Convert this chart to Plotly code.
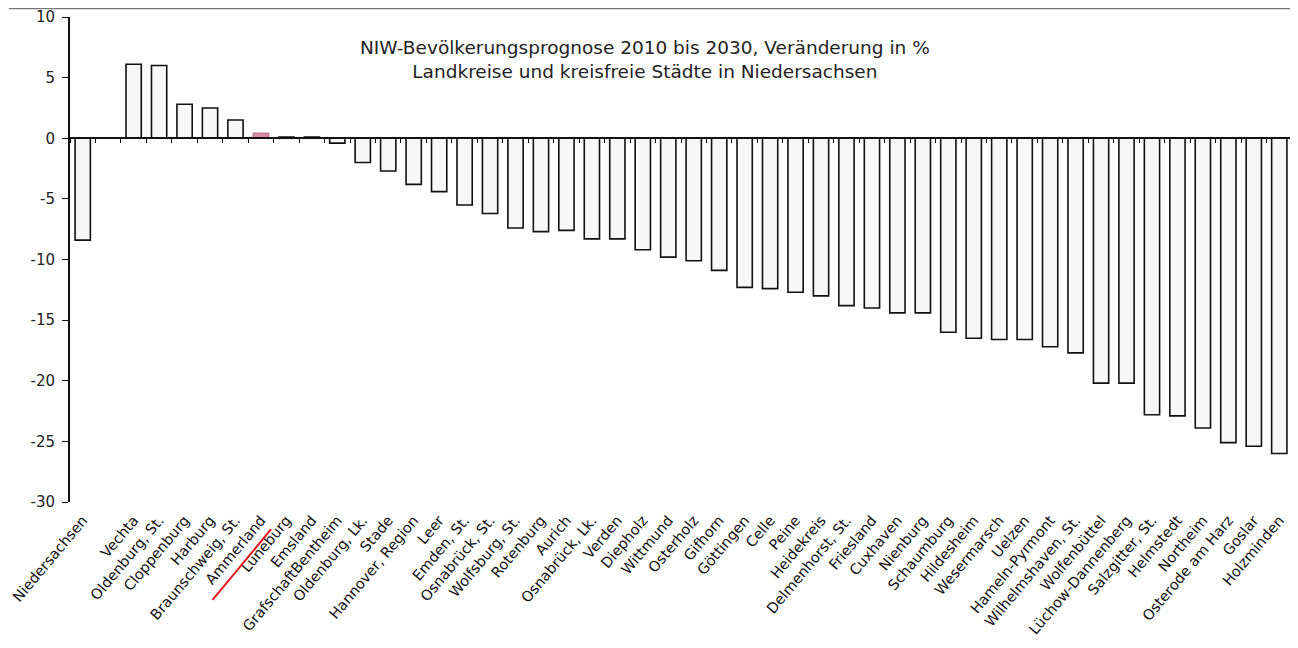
import plotly.graph_objects as go

categories = ["Niedersachsen", " ", "Vechta", "Oldenburg, St.", "Cloppenburg", "Harburg",
              "Braunschweig, St.", "Ammerland", "Lüneburg", "Emsland", "GrafschaftBentheim",
              "Oldenburg, Lk.", "Stade", "Hannover, Region", "Leer", "Emden, St.",
              "Osnabrück, St.", "Wolfsburg, St.", "Rotenburg", "Aurich", "Osnabrück, Lk.",
              "Verden", "Diepholz", "Wittmund", "Osterholz", "Gifhorn", "Göttingen", "Celle",
              "Peine", "Heidekreis", "Delmenhorst, St.", "Friesland", "Cuxhaven", "Nienburg",
              "Schaumburg", "Hildesheim", "Wesermarsch", "Uelzen", "Hameln-Pyrmont",
              "Wilhelmshaven, St.", "Wolfenbüttel", "Lüchow-Dannenberg", "Salzgitter, St.",
              "Helmstedt", "Northeim", "Osterode am Harz", "Goslar", "Holzminden"]

values = [-8.4, None, 6.1, 6.0, 2.8, 2.5, 1.5, 0.4, 0.1, 0.1, -0.4,
          -2.0, -2.7, -3.8, -4.4, -5.5, -6.2, -7.4, -7.7, -7.6, -8.3,
          -8.3, -9.2, -9.8, -10.1, -10.9, -12.3, -12.4, -12.7, -13.0, -13.8,
          -14.0, -14.4, -14.4, -16.0, -16.5, -16.6, -16.6, -17.2, -17.7, -20.2,
          -20.2, -22.8, -22.9, -23.9, -25.1, -25.4, -26.0]

highlight = "Ammerland"
title_lines = ["NIW-Bevölkerungsprognose 2010 bis 2030, Veränderung in %",
               "Landkreise und kreisfreie Städte in Niedersachsen"]
y_ticks = [10, 5, 0, -5, -10, -15, -20, -25, -30]
y_min, y_max = -30, 10

colors = ["#d98fa3" if c == highlight else "#f7f7f7" for c in categories]
line_colors = ["#c87a90" if c == highlight else "#111111" for c in categories]

fig = go.Figure()
fig.add_trace(go.Bar(
    x=categories, y=values,
    marker=dict(color=colors, line=dict(color=line_colors, width=1.6)),
    width=0.6, showlegend=False, hoverinfo="x+y"))
# helper trace for the axis drawn at zero
fig.add_trace(go.Scatter(x=categories, y=[None] * len(categories), xaxis="x2",
                         mode="markers", showlegend=False, hoverinfo="skip"))

n = len(categories)
zero_pos = (0 - y_min) / (y_max - y_min)
font = "DejaVu Sans, Verdana, sans-serif"

fig.update_layout(
    width=1290, height=640,
    margin=dict(l=62, r=6, t=9, b=146),
    paper_bgcolor="white", plot_bgcolor="white",
    font=dict(family=font, size=15, color="#222222"),
    xaxis=dict(type="category", categoryorder="array", categoryarray=categories,
               range=[-0.5, n - 0.5], tickangle=-50, showline=False, ticks="",
               showgrid=False, zeroline=False, automargin=False, ticklabelstandoff=6,
               tickfont=dict(size=14.5, color="#111111")),
    xaxis2=dict(type="category", categoryorder="array", categoryarray=categories,
                range=[-0.5, n - 0.5], overlaying="x", anchor="free", position=zero_pos,
                showticklabels=False, ticks="outside", ticklen=4, tickwidth=1,
                tickcolor="#111111", tickson="boundaries", showline=True,
                linecolor="#111111", linewidth=2, showgrid=False, zeroline=False,
                automargin=False),
    yaxis=dict(range=[y_min, y_max], tickvals=y_ticks, ticktext=[str(v) for v in y_ticks],
               showgrid=False, zeroline=False, showline=True, linecolor="#111111",
               linewidth=2, ticks="outside", ticklen=6, tickcolor="#111111",
               ticklabelstandoff=4, automargin=False,
               tickfont=dict(size=15, color="#222222")),
    annotations=[dict(text="<br>".join(title_lines), xref="paper", yref="paper",
                      x=0.4705, y=0.963, xanchor="center", yanchor="top", showarrow=False,
                      font=dict(size=18.5, color="#222222", family=font))],
    bargap=0.4,
)

# red hand-drawn underline at the highlighted label
hi = categories.index(highlight)
fig.add_shape(type="line", xref="x", yref="paper", x0=hi - 1.9, x1=hi + 0.4,
              y0=-0.202, y1=-0.056, line=dict(color="#e8141c", width=2))
# figure frame (top and right edges)
fig.add_shape(type="line", xref="paper", yref="paper", x0=-0.05, x1=1.0025,
              y0=1.0175, y1=1.0175, line=dict(color="#777777", width=1.5))
fig.add_shape(type="line", xref="paper", yref="paper", x0=1.0025, x1=1.0025,
              y0=-0.3, y1=1.0175, line=dict(color="#777777", width=1.5))

fig.write_html("out.html")
